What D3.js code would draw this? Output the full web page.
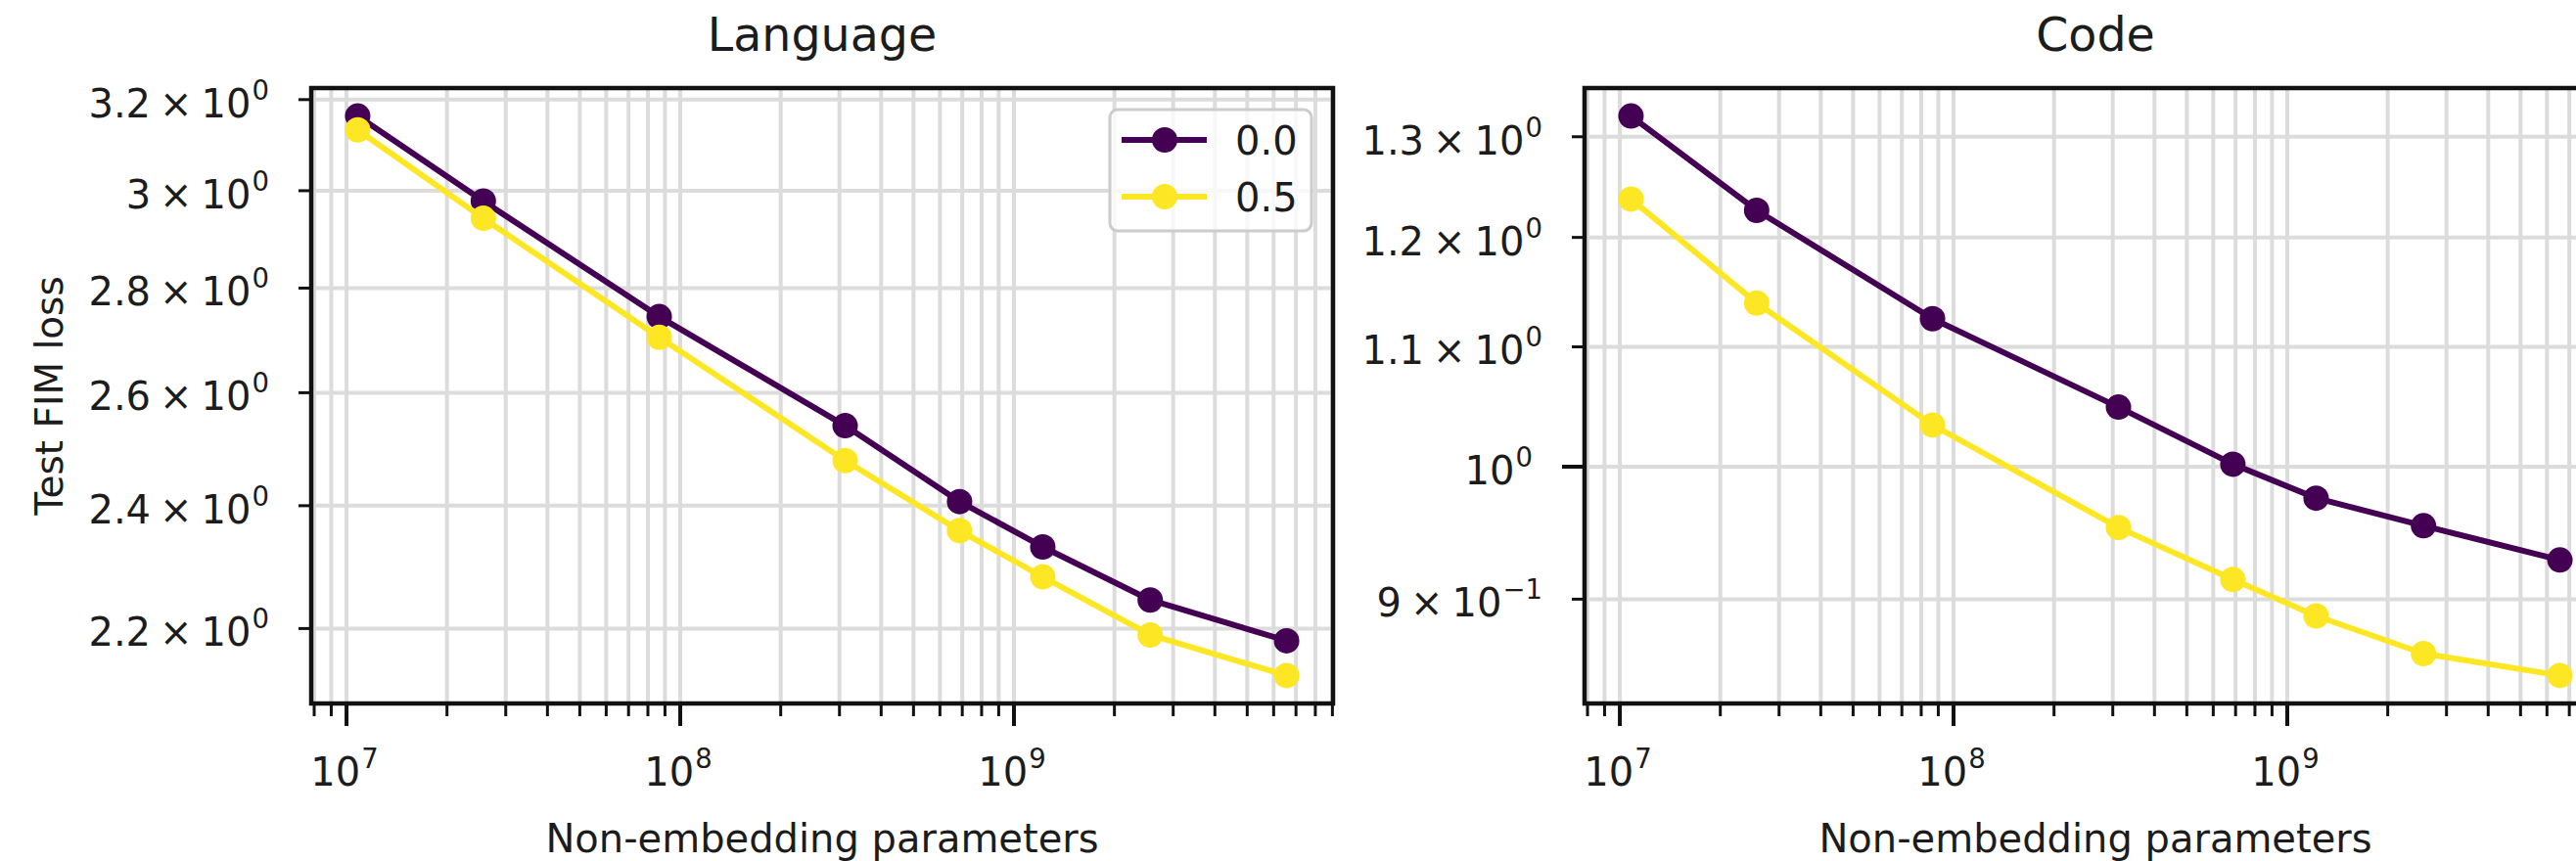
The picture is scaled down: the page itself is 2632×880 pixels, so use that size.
<!DOCTYPE html>
<html>
<head>
<meta charset="utf-8">
<script src="https://cdn.jsdelivr.net/npm/d3@7"></script>
<style>
  body { margin: 0; background: #ffffff; }
  text { font-family: "DejaVu Sans", sans-serif; fill: #1c1c1c; }
</style>
</head>
<body>
<svg id="chart" width="2632" height="880"></svg>
<script>
// Non-embedding parameter counts of the model sweep
const params = [1.08e7, 2.57e7, 8.65e7, 3.12e8, 6.87e8, 1.22e9, 2.56e9, 6.56e9];

// FIM rates (legend entries)
const fimRates = ["0.0", "0.5"];

// Test FIM loss, language evaluation
const languageLoss00 = [3.163, 2.978, 2.744, 2.540, 2.407, 2.331, 2.245, 2.181];
const languageLoss05 = [3.132, 2.942, 2.704, 2.478, 2.358, 2.282, 2.190, 2.128];

// Test FIM loss, code evaluation
const codeLoss00 = [1.3216, 1.2261, 1.1249, 1.0485, 1.0020, 0.9753, 0.9541, 0.9285];
const codeLoss05 = [1.2372, 1.1390, 1.0337, 0.9528, 0.9142, 0.8881, 0.8619, 0.8470];

// Labelled y ticks: value, mantissa, exponent
const languageYTicks = [2.2, 2.4, 2.6, 2.8, 3.0, 3.2];
const languageYMant  = ["2.2", "2.4", "2.6", "2.8", "3", "3.2"];
const languageYExp   = ["0", "0", "0", "0", "0", "0"];

const codeYTicks = [0.9, 1.0, 1.1, 1.2, 1.3];
const codeYMant  = ["9", "", "1.1", "1.2", "1.3"];
const codeYExp   = ["\u22121", "0", "0", "0", "0"];
const codeYMajor = [false, true, false, false, false];

// Decades on the x axis
const xDecades = [7, 8, 9];

const seriesColors = ["#440154", "#fde725"];

const panelTitles = ["Language", "Code"];
const xLabel = "Non-embedding parameters";
const yLabel = "Test FIM loss";

// ---------------------------------------------------------------
const svg = d3.select("#chart");
const FONT = 40, TITLE_FONT = 47.5, SUP_FONT = 27.5;
const MAJOR_LEN = 23, MINOR_LEN = 13;
const GRID = "#dcdcdc";

// 5% padding in log space on both ends
function logPad(values) {
  const lo = Math.log10(d3.min(values)), hi = Math.log10(d3.max(values));
  const m = (hi - lo) * 0.05;
  return [Math.pow(10, lo - m), Math.pow(10, hi + m)];
}

// Draws "mant × 10^exp" (or "10^exp" when mant is empty) as one text node
function sciLabel(g, x, y, mant, exp, anchor) {
  const t = g.append("text").attr("x", x).attr("y", y)
    .attr("text-anchor", anchor).style("font-size", FONT + "px");
  if (mant) {
    t.append("tspan").text(mant);
    t.append("tspan").attr("dx", 9).text("\u00d7");
    t.append("tspan").attr("dx", 9).text("10");
  } else {
    t.append("tspan").text("10");
  }
  t.append("tspan").attr("dy", -18).attr("dx", 1)
    .style("font-size", SUP_FONT + "px").text(exp);
  return t;
}

function drawPanel(opts) {
  const { left, right, top, bottom, series, yTicks, yMant, yExp, yMajor, title, legend, showYLabel } = opts;
  const g = svg.append("g");

  const allY = series.flat();
  const x = d3.scaleLog().domain(logPad(params)).range([left, right]);
  const y = d3.scaleLog().domain(logPad(allY)).range([bottom, top]);

  // x tick positions: decades (major) and 2..9 multiples (minor)
  const [x0, x1] = x.domain();
  const xMinor = [];
  for (let d = Math.floor(Math.log10(x0)); d <= Math.ceil(Math.log10(x1)); d++) {
    for (let k = 2; k <= 9; k++) {
      const v = k * Math.pow(10, d);
      if (v >= x0 && v <= x1) xMinor.push(v);
    }
  }
  const xMajor = xDecades.map(d => Math.pow(10, d));

  // grid
  const grid = g.append("g").attr("stroke", GRID).attr("stroke-width", 4);
  xMinor.concat(xMajor).forEach(v => {
    grid.append("line").attr("x1", x(v)).attr("x2", x(v)).attr("y1", top).attr("y2", bottom);
  });
  yTicks.forEach(v => {
    grid.append("line").attr("x1", left).attr("x2", right).attr("y1", y(v)).attr("y2", y(v));
  });

  // series lines and markers
  const line = d3.line().x((d, i) => x(params[i])).y(d => y(d));
  series.forEach((vals, si) => {
    g.append("path").datum(vals).attr("d", line)
      .attr("fill", "none").attr("stroke", seriesColors[si])
      .attr("stroke-width", 6).attr("stroke-linejoin", "round");
    g.append("g").selectAll("circle").data(vals).join("circle")
      .attr("cx", (d, i) => x(params[i])).attr("cy", d => y(d))
      .attr("r", 13).attr("fill", seriesColors[si]);
  });

  // spines
  g.append("rect").attr("x", left).attr("y", top)
    .attr("width", right - left).attr("height", bottom - top)
    .attr("fill", "none").attr("stroke", "#111").attr("stroke-width", 4.5);

  // x ticks
  const ticks = g.append("g").attr("stroke", "#111");
  xMinor.forEach(v => ticks.append("line").attr("x1", x(v)).attr("x2", x(v))
    .attr("y1", bottom).attr("y2", bottom + MINOR_LEN).attr("stroke-width", 3));
  xMajor.forEach((v, i) => {
    ticks.append("line").attr("x1", x(v)).attr("x2", x(v))
      .attr("y1", bottom).attr("y2", bottom + MAJOR_LEN).attr("stroke-width", 4);
    sciLabel(g, x(v) - 2, bottom + 84, "", String(xDecades[i]), "middle");
  });

  // y ticks and labels
  yTicks.forEach((v, i) => {
    const len = yMajor[i] ? MAJOR_LEN : MINOR_LEN;
    ticks.append("line").attr("x1", left - len).attr("x2", left)
      .attr("y1", y(v)).attr("y2", y(v)).attr("stroke-width", yMajor[i] ? 4 : 3);
    sciLabel(g, left - len - 30, y(v) + 18, yMant[i], yExp[i], "end");
  });

  // title and axis labels
  const cx = (left + right) / 2;
  g.append("text").attr("x", cx).attr("y", 52).attr("text-anchor", "middle")
    .style("font-size", TITLE_FONT + "px").text(title);
  g.append("text").attr("x", cx).attr("y", 871).attr("text-anchor", "middle")
    .style("font-size", FONT + "px").text(xLabel);
  if (showYLabel) {
    g.append("text").attr("transform", `translate(64,${(top + bottom) / 2}) rotate(-90)`)
      .attr("text-anchor", "middle").style("font-size", (FONT - 1) + "px").text(yLabel);
  }

  // legend
  if (legend) {
    const lg = g.append("g");
    lg.append("rect").attr("x", right - 228).attr("y", top + 22)
      .attr("width", 206).attr("height", 124).attr("rx", 8)
      .attr("fill", "#ffffff").attr("fill-opacity", 0.8)
      .attr("stroke", "#cccccc").attr("stroke-width", 3);
    fimRates.forEach((r, i) => {
      const ry = top + 53 + i * 58;
      lg.append("line").attr("x1", right - 216).attr("x2", right - 129)
        .attr("y1", ry).attr("y2", ry)
        .attr("stroke", seriesColors[i]).attr("stroke-width", 6);
      lg.append("circle").attr("cx", right - 172).attr("cy", ry).attr("r", 13)
        .attr("fill", seriesColors[i]);
      lg.append("text").attr("x", right - 100).attr("y", ry + 14.5)
        .style("font-size", FONT + "px").text(r);
    });
  }
}

drawPanel({
  left: 318, right: 1362, top: 90, bottom: 719,
  series: [languageLoss00, languageLoss05],
  yTicks: languageYTicks, yMant: languageYMant, yExp: languageYExp,
  yMajor: languageYTicks.map(() => false),
  title: panelTitles[0], legend: true, showYLabel: true
});

drawPanel({
  left: 1619, right: 2663, top: 90, bottom: 719,
  series: [codeLoss00, codeLoss05],
  yTicks: codeYTicks, yMant: codeYMant, yExp: codeYExp, yMajor: codeYMajor,
  title: panelTitles[1], legend: false, showYLabel: false
});
</script>
</body>
</html>
